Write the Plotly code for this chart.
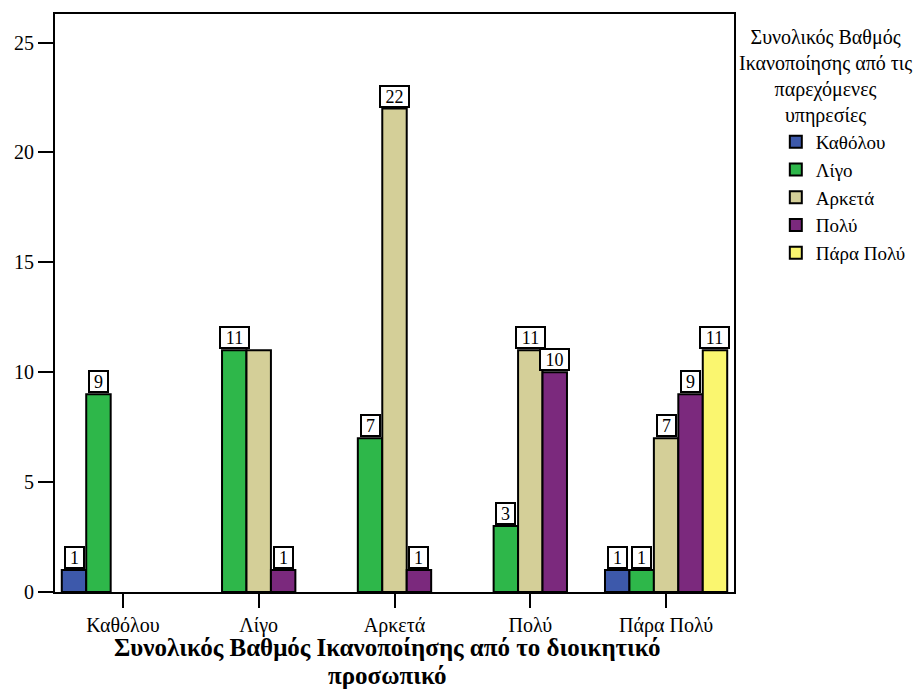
import plotly.graph_objects as go

# Categories on the x axis (overall satisfaction with administrative staff)
categories = ["Καθόλου", "Λίγο", "Αρκετά", "Πολύ", "Πάρα Πολύ"]

# One series per level of satisfaction with the services provided
series_names = ["Καθόλου", "Λίγο", "Αρκετά", "Πολύ", "Πάρα Πολύ"]
counts_katholou = [1, None, None, None, 1]
counts_ligo = [9, 11, 7, 3, 1]
counts_arketa = [None, 11, 22, 11, 7]
counts_poly = [None, 1, 1, 10, 9]
counts_para_poly = [None, None, None, None, 11]
series_values = [counts_katholou, counts_ligo, counts_arketa, counts_poly, counts_para_poly]

colors = ["#3d59ab", "#2eb74a", "#d4cf98", "#7b297d", "#faf66f"]

y_ticks = [0, 5, 10, 15, 20, 25]
Y_MAX = 26.3

x_title_lines = ["Συνολικός Βαθμός Ικανοποίησης από το διοικητικό", "προσωπικό"]
legend_heading = "Συνολικός Βαθμός<br>Ικανοποίησης από τις<br>παρεχόμενες<br>υπηρεσίες"

FONT = "Liberation Serif"
n_series = len(series_names)
group_width = 0.9
bar_w = group_width / n_series

# plot-area geometry (px) used for label collision checks and title placement
plot_w_px, plot_h_px = 682, 578
px_per_x = plot_w_px / len(categories)
px_per_y = plot_h_px / Y_MAX

fig = go.Figure()
for i, (name, vals) in enumerate(zip(series_names, series_values)):
    fig.add_trace(go.Bar(
        name=name,
        x=list(range(len(categories))),
        y=vals,
        width=bar_w,
        offset=-group_width / 2 + i * bar_w,
        marker=dict(color=colors[i], line=dict(color="black", width=2)),
        legendgroup=name,
        hoverinfo="y+name",
    ))

# value labels in boxes above bars; a label is dropped if it would collide
# with the label already placed on the neighbouring bar
annotations = []
for j in range(len(categories)):
    placed = []
    for i, vals in enumerate(series_values):
        v = vals[j]
        if v is None:
            continue
        txt = str(v)
        w = 10 * len(txt) + 11
        h = 20
        cx = (j - group_width / 2 + (i + 0.5) * bar_w) * px_per_x
        cy = v * px_per_y + h / 2
        clash = any(abs(cx - px) < (w + pw) / 2 and abs(cy - py) < (h + ph) / 2
                    for px, py, pw, ph in placed)
        if clash:
            continue
        placed.append((cx, cy, w, h))
        annotations.append(dict(
            x=j - group_width / 2 + (i + 0.5) * bar_w, y=v,
            xref="x", yref="y", text=txt, showarrow=False,
            yanchor="bottom", yshift=1,
            font=dict(family=FONT, size=18, color="black"),
            bgcolor="white", bordercolor="black", borderwidth=2,
            borderpad=1, width=10 * len(txt) + 5, height=17,
        ))

# legend heading
annotations.append(dict(
    x=(829 - 55) / plot_w_px, y=1 + (14 - 24) / plot_h_px,
    xref="paper", yref="paper", xanchor="center", yanchor="top",
    text=legend_heading, showarrow=False, align="center",
    font=dict(family=FONT, size=20, color="black"),
))

# x-axis title, two centred bold lines below the tick labels
for k, line in enumerate(x_title_lines):
    annotations.append(dict(
        x=0.49, y=-(647 + 28 * k - 592) / plot_h_px,
        xref="paper", yref="paper", xanchor="center", yanchor="middle",
        text=f"<b>{line}</b>", showarrow=False,
        font=dict(family=FONT, size=25, color="black"),
    ))

axis_common = dict(
    showline=True, linecolor="black", linewidth=2, mirror=True,
    ticks="outside", tickcolor="black", tickwidth=2,
    showgrid=False, zeroline=False, automargin=False,
    tickfont=dict(family=FONT, size=20, color="black"),
)

fig.update_layout(
    width=923, height=690,
    margin=dict(l=55, r=186, t=14, b=98),
    plot_bgcolor="white", paper_bgcolor="white",
    font=dict(family=FONT, size=20, color="black"),
    bargap=0.1,
    annotations=annotations,
    legend=dict(
        x=1 + (779 - 737) / plot_w_px, xanchor="left",
        y=1 - (123 - 14) / plot_h_px, yanchor="top",
        font=dict(family=FONT, size=19, color="black"),
        tracegroupgap=0, bgcolor="rgba(0,0,0,0)",
    ),
    xaxis=dict(
        range=[-0.5, len(categories) - 0.5],
        tickvals=list(range(len(categories))), ticktext=categories,
        ticklen=14,
        **axis_common,
    ),
    yaxis=dict(
        range=[0, Y_MAX], tickvals=y_ticks, ticklen=15,
        **axis_common,
    ),
)

fig.write_html("out.html")
